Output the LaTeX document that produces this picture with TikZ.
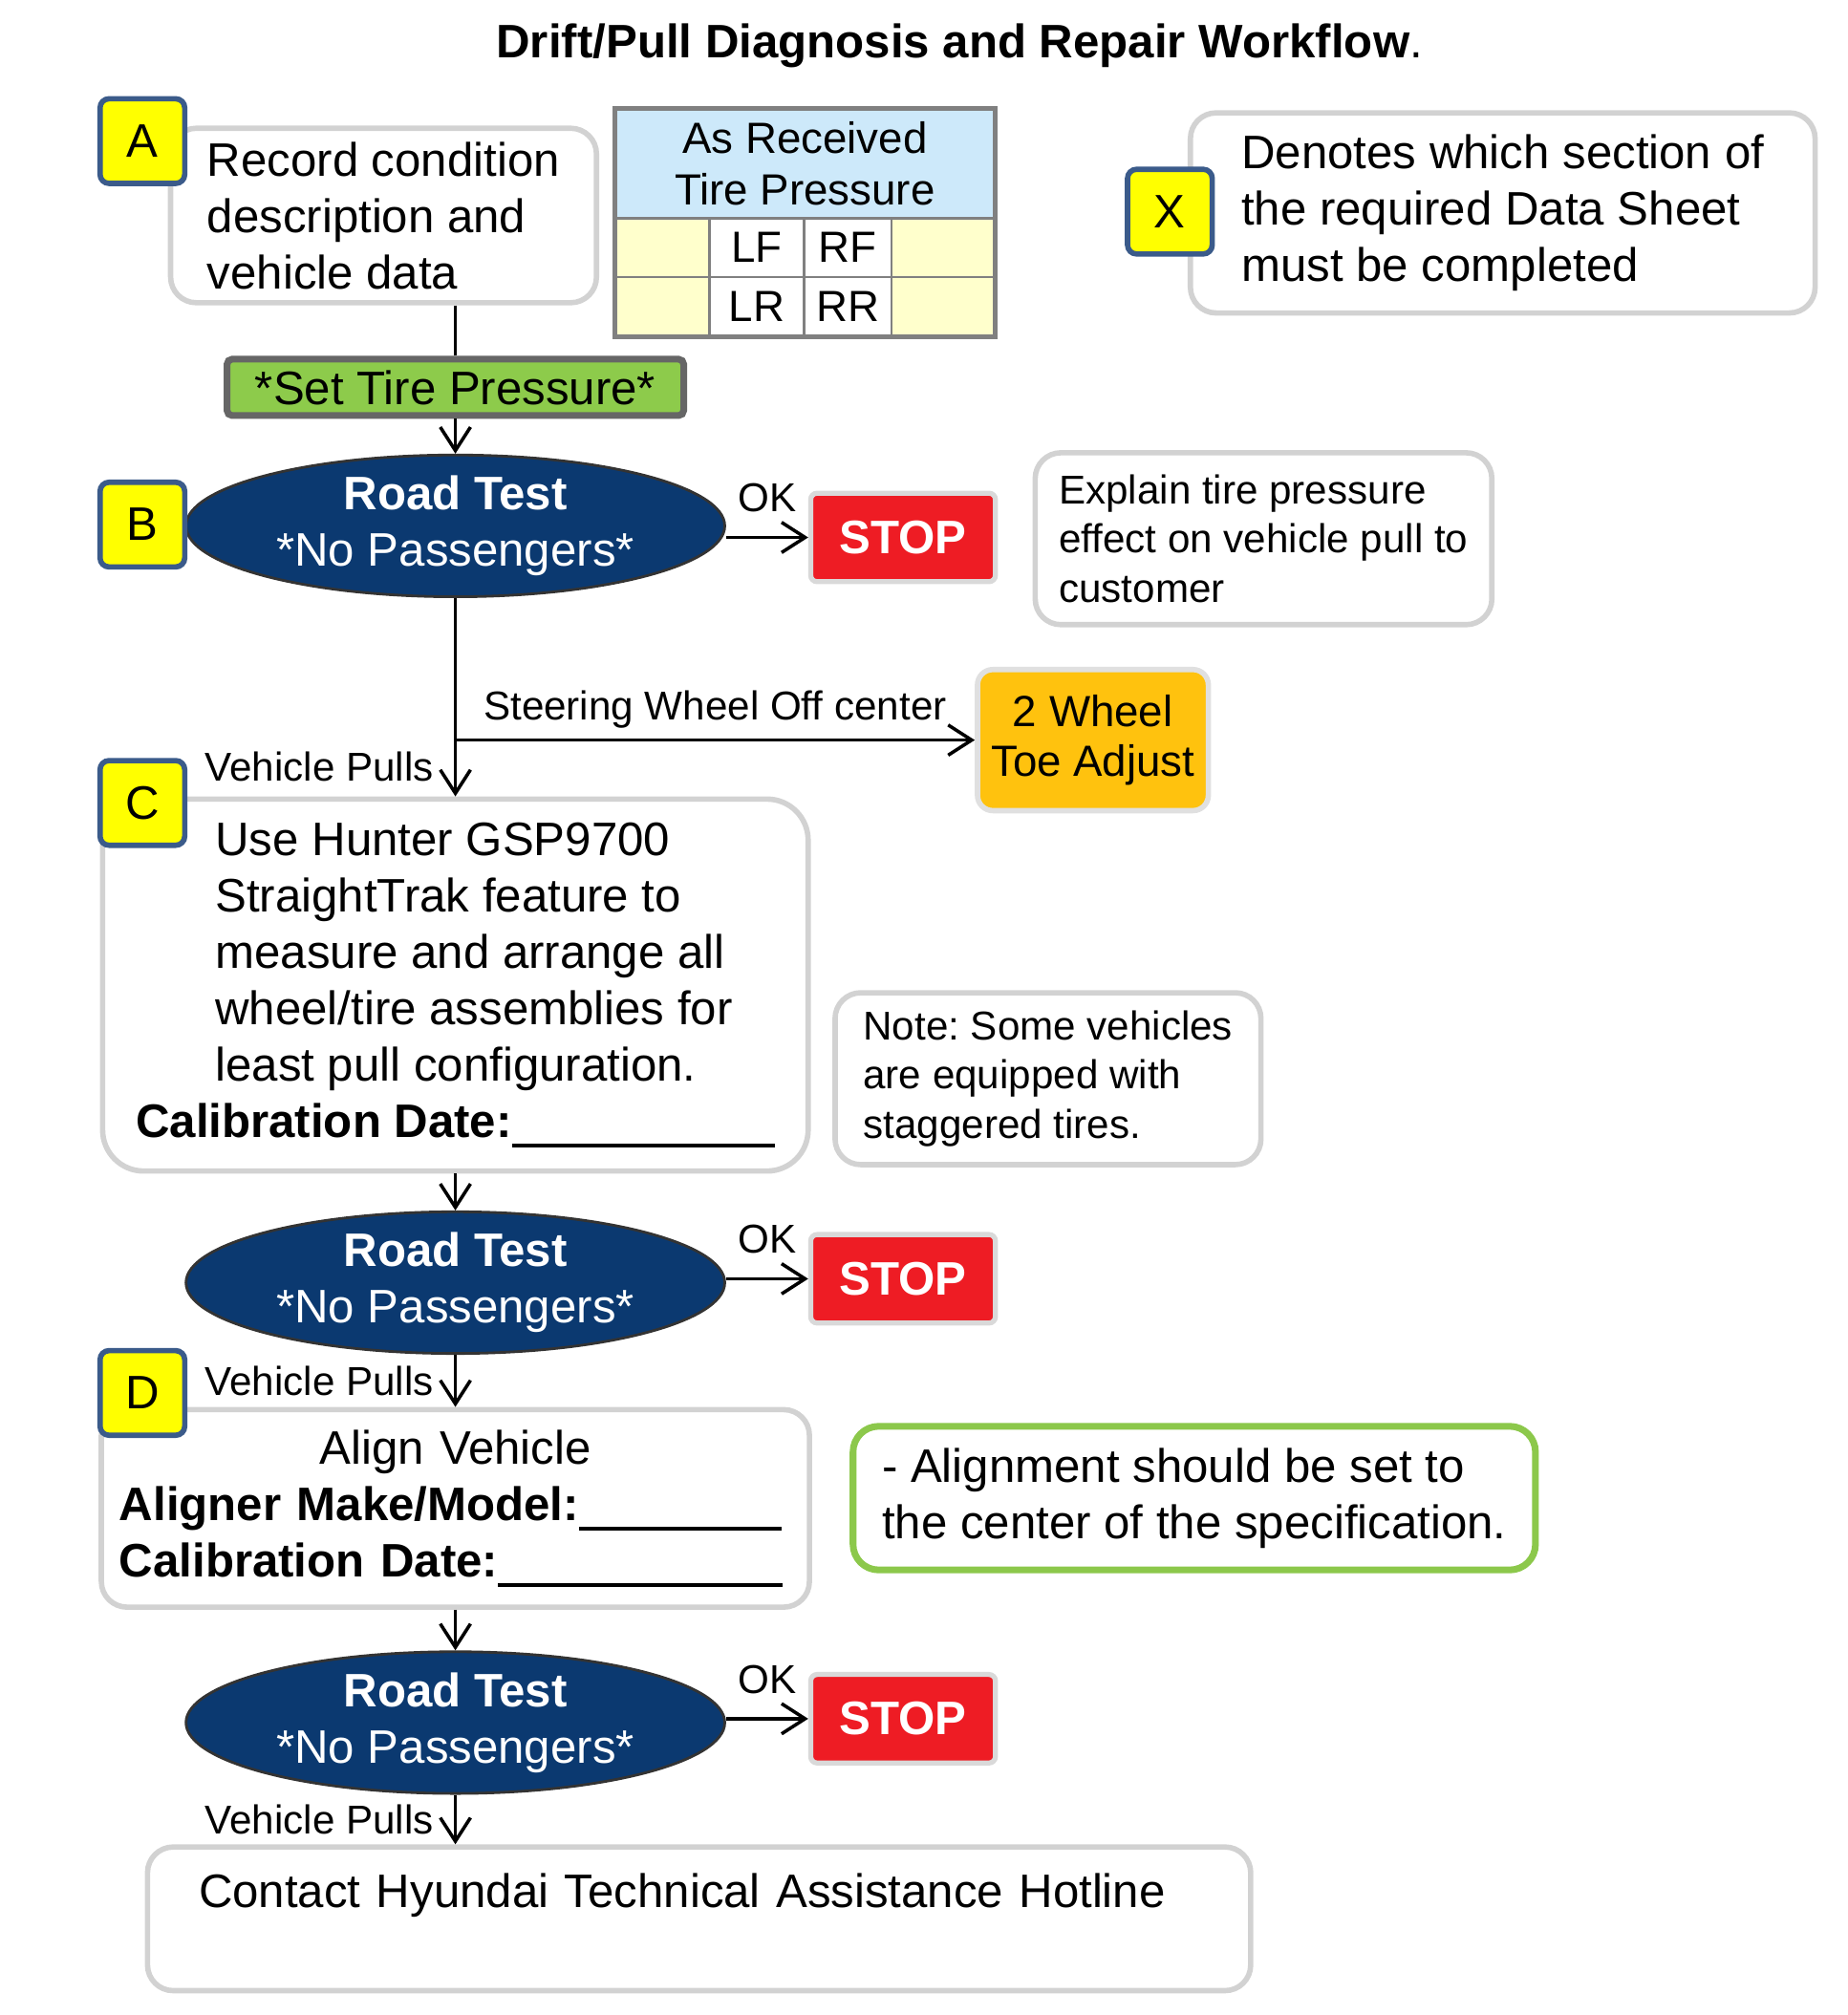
\documentclass[tikz,border=0pt]{standalone}
\usepackage{fontspec}
\setmainfont{Liberation Sans}
\usepackage{tikz}
\usetikzlibrary{shapes.geometric,arrows.meta,positioning}

\definecolor{badgeyellow}{HTML}{FFFF00}
\definecolor{badgeblue}{HTML}{3B5B8A}
\definecolor{boxgray}{HTML}{D2D2D2}
\definecolor{roadnavy}{HTML}{0B3970}
\definecolor{stopred}{HTML}{EE1C24}
\definecolor{toeorange}{HTML}{FFC20E}
\definecolor{setgreen}{HTML}{8DCB4B}
\definecolor{notegreen}{HTML}{8CC84B}
\definecolor{hdrblue}{HTML}{CDE9FA}
\definecolor{cellyellow}{HTML}{FFFFCC}

\frenchspacing
\newlength{\px}
\setlength{\px}{0.013424cm}
\newcommand{\fbig}{\fontsize{14}{16.8}\selectfont}
\newcommand{\fmid}{\fontsize{13}{15.4}\selectfont}
\newcommand{\fsmall}{\fontsize{12}{14.7}\selectfont}
\newcommand{\blank}[1]{\rule[-0.22em]{#1\px}{0.08em}}

\tikzset{
  box/.style={draw=boxgray, line width=1.6pt, fill=white, rounded corners=20\px,
    align=left, font=\fbig, inner sep=0pt},
  badge/.style={draw=badgeblue, line width=1.6pt, fill=badgeyellow, rounded corners=7\px,
    minimum width=66\px, minimum height=66\px, font=\fbig, inner sep=0pt},
  roadtest/.style={ellipse, draw=black!80, line width=0.8pt, fill=roadnavy, text=white,
    minimum width=420\px, minimum height=110\px, inner sep=0pt, align=center, font=\fbig},
  stopbox/.style={draw=black!15, line width=1.5pt, fill=stopred, text=white, rounded corners=5\px,
    minimum width=144\px, minimum height=69\px, font=\fbig\bfseries},
  cell/.style={draw=black!50, line width=0.8pt, minimum height=46\px, inner sep=0pt, font=\fmid},
  flow/.style={line width=1pt, -{Straight Barb[length=7pt,width=9pt]}},
  lbl/.style={font=\fsmall, inner sep=2pt}
}

\begin{document}
\begin{tikzpicture}[x=0.013424cm, y=-0.013424cm]
  \useasboundingbox (0,0) rectangle (1440,1571);

  \node[font=\fbig\bfseries] (title) at (748,36) {Drift/Pull Diagnosis and Repair Workflow\textmd{.}};

  % section A
  \node[box, minimum width=332\px, minimum height=136\px] (record) at (299,168)
    {Record condition\\description and\\vehicle data};
  \node[badge] (ba) at (111,110) {A};

  % as received table
  \node[cell, fill=hdrblue, minimum width=295\px, minimum height=85\px, align=center] (hdr) at (627.5,127.5)
    {As Received\\Tire Pressure};
  \node[cell, fill=cellyellow, minimum width=73\px] (lfv) at (516.5,193) {};
  \node[cell, fill=white, minimum width=74\px] (lf) at (590,193) {LF};
  \node[cell, fill=white, minimum width=68\px] (rf) at (661,193) {RF};
  \node[cell, fill=cellyellow, minimum width=80\px] (rfv) at (735,193) {};
  \node[cell, fill=cellyellow, minimum width=73\px] (lrv) at (516.5,239) {};
  \node[cell, fill=white, minimum width=74\px] (lr) at (590,239) {LR};
  \node[cell, fill=white, minimum width=68\px] (rr) at (661,239) {RR};
  \node[cell, fill=cellyellow, minimum width=80\px] (rrv) at (735,239) {};
  \draw[black!50, line width=1.2pt] (hdr.north west) rectangle (rrv.south east);

  % legend
  \node[box, minimum width=487\px, minimum height=156\px] (legend) at (1171.5,166)
    {Denotes which section of\\the required Data Sheet\\must be completed};
  \node[badge] (bx) at (912,165) {X};

  \node[draw=black!60, line width=2pt, fill=setgreen, rounded corners=4\px, minimum width=356\px,
    minimum height=44\px, font=\fbig, inner sep=0pt] (setp) at (355,302) {*Set Tire Pressure*};

  % section B
  \node[roadtest] (rt1) at (355,410) {\textbf{Road Test}\\*No Passengers*};
  \node[badge] (bb) at (111,409) {B};
  \node[stopbox] (stop1) at (704,419) {STOP};
  \node[box, font=\fsmall, minimum width=356\px, minimum height=134\px] (explain) at (985,420)
    {Explain tire pressure\\effect on vehicle pull to\\customer};
  \node[box, draw=black!12, fill=toeorange, rounded corners=12\px, align=center, font=\fontsize{13}{15}\selectfont,
    minimum width=180\px, minimum height=110\px] (toe) at (852,577) {2 Wheel\\Toe Adjust};

  % section C
  \node[box, rounded corners=32\px, minimum width=550\px, minimum height=290\px] (hunter) at (355,768)
    {\hspace*{62\px}Use Hunter GSP9700\\
     \hspace*{62\px}StraightTrak feature to\\
     \hspace*{62\px}measure and arrange all\\
     \hspace*{62\px}wheel/tire assemblies for\\
     \hspace*{62\px}least pull configuration.\\
     \textbf{Calibration Date:}\blank{205}};
  \node[badge] (bc) at (111,626) {C};
  \node[box, font=\fsmall, minimum width=332\px, minimum height=134\px] (note) at (817,841)
    {Note: Some vehicles\\are equipped with\\staggered tires.};

  \node[roadtest] (rt2) at (355,1000) {\textbf{Road Test}\\*No Passengers*};
  \node[stopbox] (stop2) at (704,997) {STOP};

  % section D
  \node[box, text width=524\px, minimum width=552\px, minimum height=154\px] (aligner) at (355,1176)
    {\makebox[\linewidth]{Align Vehicle}\\
     \textbf{Aligner Make/Model:}\blank{158}\\
     \textbf{Calibration Date:}\blank{222}};
  \node[badge] (bd) at (111,1086) {D};
  \node[box, draw=notegreen, line width=2pt, minimum width=532\px, minimum height=112\px] (spec) at (931,1168)
    {- Alignment should be set to\\the center of the specification.};

  \node[roadtest] (rt3) at (355,1343) {\textbf{Road Test}\\*No Passengers*};
  \node[stopbox] (stop3) at (704,1340) {STOP};
  \node[box, text width=780\px, minimum width=860\px, minimum height=112\px] (hotline) at (545,1496)
    {Contact Hyundai Technical Assistance Hotline\\\mbox{}};

  % connectors
  \draw[line width=1pt] (setp.north |- record.south) -- (setp.north);
  \draw[flow] (setp) -- (rt1);
  \draw[flow] (rt1.east |- stop1) -- node[lbl, above=5pt] {OK} (stop1);
  \coordinate (split) at (rt1.south |- toe);
  \draw[flow] (rt1) -- node[lbl, pos=0.85, left=4pt] {Vehicle Pulls} (hunter);
  \draw[flow] (split) -- node[lbl, above=1pt] {Steering Wheel Off center} (toe);
  \draw[flow] (hunter) -- (rt2);
  \draw[flow] (rt2.east |- stop2) -- node[lbl, above=5pt] {OK} (stop2);
  \draw[flow] (rt2) -- node[lbl, left=4pt] {Vehicle Pulls} (aligner);
  \draw[flow] (aligner) -- (rt3);
  \draw[flow] (rt3.east |- stop3) -- node[lbl, above=5pt] {OK} (stop3);
  \draw[flow] (rt3.south) -- node[lbl, left=4pt] {Vehicle Pulls} (rt3.south |- hotline.north);
\end{tikzpicture}
\end{document}
